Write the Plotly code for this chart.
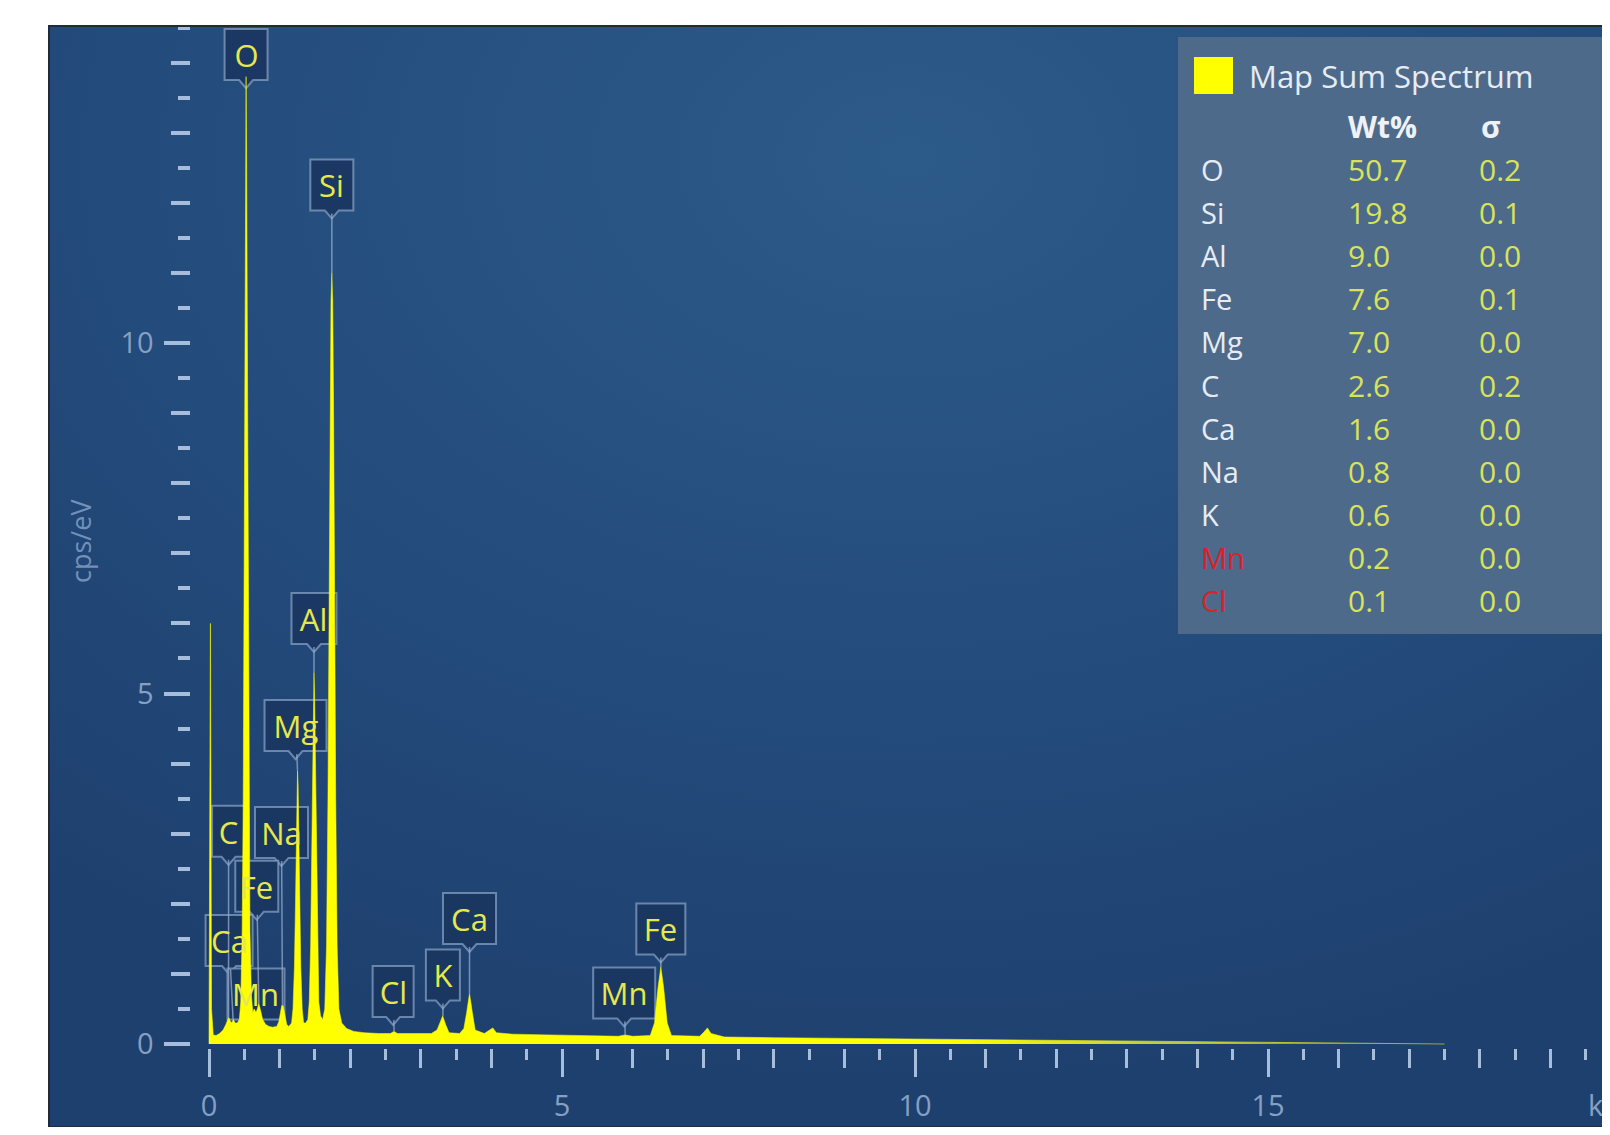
import base64
import plotly.graph_objects as go

# ---------------- data ----------------
energy_kev = [
    0.000, 0.008, 0.014, 0.020, 0.026, 0.036, 0.060, 0.100, 0.150, 0.200, 0.240,
    0.265, 0.280, 0.300, 0.320, 0.345, 0.370, 0.400, 0.430, 0.450, 0.470,
    0.485, 0.497, 0.508, 0.518, 0.525, 0.532, 0.542, 0.553, 0.565, 0.580,
    0.600, 0.620, 0.640, 0.665, 0.685, 0.705, 0.725, 0.760, 0.800, 0.850,
    0.900, 0.960, 0.990, 1.010, 1.030, 1.050, 1.070, 1.100, 1.130, 1.170,
    1.190, 1.210, 1.225, 1.240, 1.248, 1.254, 1.262, 1.270, 1.285, 1.300,
    1.320, 1.340, 1.370, 1.400, 1.420, 1.440, 1.455, 1.470, 1.480, 1.487,
    1.495, 1.505, 1.520, 1.535, 1.555, 1.580, 1.610, 1.640, 1.665, 1.685,
    1.700, 1.715, 1.728, 1.740, 1.752, 1.765, 1.780, 1.795, 1.815, 1.840,
    1.880, 1.950, 2.050, 2.200, 2.400, 2.570, 2.620, 2.670, 2.900, 3.150,
    3.230, 3.270, 3.310, 3.350, 3.400, 3.550, 3.610, 3.650, 3.690, 3.730,
    3.770, 3.900, 3.970, 4.020, 4.070, 4.300, 4.800, 5.300, 5.800, 5.895,
    6.000, 6.250, 6.310, 6.360, 6.400, 6.440, 6.490, 6.550, 6.950, 7.010,
    7.060, 7.110, 7.300, 8.000, 9.000, 10.00, 11.00, 12.00, 13.00, 14.00,
    15.00, 16.00, 17.00, 17.50,
]
cps_per_ev = [
    0.00, 4.00, 5.90, 6.00, 4.00, 0.50, 0.13, 0.12, 0.15, 0.20, 0.28,
    0.35, 0.38, 0.33, 0.30, 0.35, 0.30, 0.30, 0.35, 0.60, 1.60,
    3.50, 6.50, 10.00, 12.80, 13.80, 12.80, 10.00, 6.50, 3.50, 1.60,
    0.70, 0.45, 0.50, 0.45, 0.50, 0.58, 0.50, 0.35, 0.28, 0.25,
    0.24, 0.25, 0.32, 0.45, 0.55, 0.55, 0.42, 0.28, 0.25, 0.30,
    0.50, 1.10, 2.00, 3.20, 3.70, 3.90, 3.70, 3.20, 2.00, 1.10,
    0.50, 0.30, 0.30, 0.35, 0.60, 1.40, 2.70, 4.20, 5.00, 5.30,
    5.00, 4.20, 2.70, 1.40, 0.60, 0.40, 0.35, 0.50, 1.40, 3.50,
    6.00, 9.00, 10.60, 11.00, 10.60, 9.00, 6.00, 3.50, 1.40, 0.50,
    0.30, 0.22, 0.18, 0.16, 0.15, 0.15, 0.18, 0.15, 0.15, 0.15,
    0.20, 0.30, 0.40, 0.28, 0.16, 0.15, 0.22, 0.45, 0.72, 0.45,
    0.20, 0.15, 0.19, 0.23, 0.16, 0.14, 0.13, 0.12, 0.11, 0.13,
    0.11, 0.12, 0.30, 0.80, 1.10, 0.80, 0.30, 0.12, 0.11, 0.17,
    0.23, 0.15, 0.10, 0.09, 0.08, 0.07, 0.06, 0.05, 0.04, 0.03,
    0.02, 0.012, 0.005, 0.00,
]

# peak labels
peak_labels = ["O", "Si", "Al", "Mg", "Na", "C", "Fe", "Ca", "Mn", "Cl", "K", "Ca", "Mn", "Fe"]
peak_energy = [0.525, 1.740, 1.487, 1.254, 1.041, 0.277, 0.705, 0.341, 0.637, 2.622, 3.313, 3.690, 5.895, 6.400]
peak_height = [13.8, 11.0, 5.3, 3.9, 0.55, 0.38, 0.58, 0.35, 0.50, 0.18, 0.40, 0.72, 0.13, 1.10]

# quantification table
elements = ["O", "Si", "Al", "Fe", "Mg", "C", "Ca", "Na", "K", "Mn", "Cl"]
wt_pct = ["50.7", "19.8", "9.0", "7.6", "7.0", "2.6", "1.6", "0.8", "0.6", "0.2", "0.1"]
sigma = ["0.2", "0.1", "0.0", "0.1", "0.0", "0.2", "0.0", "0.0", "0.0", "0.0", "0.0"]
flagged = ["Mn", "Cl"]

x_tick_vals = [0, 5, 10, 15]
x_tick_text = ["0", "5", "10", "15"]
y_tick_vals = [0, 5, 10]
y_tick_text = ["0", "5", "10"]

# ---------------- layout geometry / style ----------------
# the page body has an 8px margin, so the figure is sized / offset for it
PAGE_OFF = 8
W, H = 1602, 1119
ML, MR, MT, MB = 49 - PAGE_OFF, 0, 26 - PAGE_OFF, 0
PW = W - ML - MR
PH = H - MT - MB
PLOT_BOTTOM = PAGE_OFF + H - MB


def px_x(p):
    return (p - PAGE_OFF - ML) / PW


def px_y(p):
    return (PLOT_BOTTOM - p) / PH


PX_PER_KEV = 70.6
X0_PAGE = 209.0
PX_PER_UNIT = 70.1
Y0_PAGE = 1044.0
X_RANGE = [(49 - X0_PAGE) / PX_PER_KEV, (49 + PW - X0_PAGE) / PX_PER_KEV]
Y_RANGE = [(Y0_PAGE - PLOT_BOTTOM) / PX_PER_UNIT, (Y0_PAGE - 26) / PX_PER_UNIT]

FONT = "Open Sans"
TICK_COL = "#a6bddb"
TICK_LABEL_COL = "#86a0c4"
LABEL_YELLOW = "#e6e84c"

# label box offsets (pixels from peak top to box centre) and inner box widths
label_ax = [0, 0, 0, -2, -1, 0, -2, -4, 2, -1, 0, 0, -1, 0]
label_ay = [-22, -88, -54, -45, -173, -186, -117, -79, -15, -40, -41, -75, -42, -38]
label_w = [33, 33, 35, 52, 43, 23, 33, 37, 47, 31, 24, 43, 52, 39]
label_leader = [False, True, True, True, True, True, True, True, False, True, True, True, True, True]
BOX_H = 41
BOX_PAD = 4

# background gradient as an svg image
svg = (
    "<svg xmlns='http://www.w3.org/2000/svg' width='1561' height='1102' "
    "viewBox='0 0 1561 1102' preserveAspectRatio='none'>"
    "<defs><radialGradient id='g' cx='0.55' cy='0.12' r='0.85'>"
    "<stop offset='0' stop-color='#2c5a89'/>"
    "<stop offset='0.6' stop-color='#234b7b'/>"
    "<stop offset='1' stop-color='#1e406f'/>"
    "</radialGradient></defs>"
    "<rect width='1561' height='1102' fill='url(#g)'/></svg>"
)
bg_src = "data:image/svg+xml;base64," + base64.b64encode(svg.encode()).decode()

fig = go.Figure()

fig.add_trace(go.Scatter(
    x=energy_kev, y=cps_per_ev, mode="lines",
    line=dict(color="rgba(255,255,0,0.55)", width=1),
    fill="tozeroy",
    fillgradient=dict(
        type="horizontal",
        colorscale=[[0.0, "rgb(255,255,0)"], [0.6, "rgb(255,255,0)"],
                    [0.85, "rgba(225,232,70,0.7)"], [1.0, "rgba(190,205,90,0.15)"]],
    ),
    hoverinfo="x+y", showlegend=False,
))
# carrier trace for the integer-tick overlay axes
fig.add_trace(go.Scatter(x=[None], y=[None], xaxis="x2", yaxis="y2",
                         showlegend=False, hoverinfo="skip"))

x_pos = px_y(1048)
y_pos = px_x(189.5)

common = dict(showgrid=False, zeroline=False, showline=False, ticks="outside")

fig.update_layout(
    width=W, height=H,
    margin=dict(l=ML, r=MR, t=MT, b=MB, autoexpand=False),
    paper_bgcolor="white",
    plot_bgcolor="rgba(0,0,0,0)",
    showlegend=False,
    xaxis=dict(
        range=X_RANGE, anchor="free", position=x_pos, **common,
        tickmode="array", tickvals=x_tick_vals, ticktext=x_tick_text,
        ticklen=28, tickwidth=3, tickcolor=TICK_COL,
        tickfont=dict(family=FONT, size=29, color=TICK_LABEL_COL),
        ticklabelstandoff=4,
        minor=dict(tickmode="array", tickvals=[i * 0.5 for i in range(0, 40)],
                   ticks="outside", ticklen=11, tickwidth=3, tickcolor=TICK_COL),
    ),
    xaxis2=dict(
        range=X_RANGE, anchor="free", position=x_pos, overlaying="x", **common,
        tickmode="array", tickvals=list(range(0, 20)),
        ticklen=19, tickwidth=3, tickcolor=TICK_COL, showticklabels=False,
    ),
    yaxis=dict(
        range=Y_RANGE, anchor="free", position=y_pos, **common,
        tickmode="array", tickvals=y_tick_vals, ticktext=y_tick_text,
        ticklen=26, tickwidth=4, tickcolor=TICK_COL,
        tickfont=dict(family=FONT, size=29, color=TICK_LABEL_COL),
        ticklabelstandoff=4,
        minor=dict(tickmode="array", tickvals=[i * 0.5 for i in range(0, 30)],
                   ticks="outside", ticklen=12, tickwidth=4, tickcolor=TICK_COL),
    ),
    yaxis2=dict(
        range=Y_RANGE, anchor="free", position=y_pos, overlaying="y", **common,
        tickmode="array", tickvals=list(range(0, 15)),
        ticklen=19, tickwidth=4, tickcolor=TICK_COL, showticklabels=False,
    ),
    images=[dict(source=bg_src, xref="paper", yref="paper", x=0, y=1,
                 sizex=1, sizey=1, xanchor="left", yanchor="top",
                 sizing="stretch", layer="below")],
)

shapes = [
    # legend panel
    dict(type="rect", xref="paper", yref="paper", x0=px_x(1178), x1=1.02,
         y0=px_y(634), y1=px_y(37), fillcolor="#4e6a8b", line=dict(width=0),
         layer="below"),
    # legend swatch
    dict(type="rect", xref="paper", yref="paper", x0=px_x(1194), x1=px_x(1233),
         y0=px_y(94), y1=px_y(57), fillcolor="#ffff00", line=dict(width=0)),
    # frame
    dict(type="rect", xref="paper", yref="paper", x0=0, x1=1.02, y0=0, y1=1,
         line=dict(color="#222a36", width=2), fillcolor="rgba(0,0,0,0)"),
]

# peak label boxes (speech-bubble shape, drawn beneath the spectrum)
for e, h, ax, ay, bw in zip(peak_energy, peak_height, label_ax, label_ay, label_w):
    half_w = bw / 2 + BOX_PAD + 1
    half_h = BOX_H / 2 + BOX_PAD + 1
    cx, cy = ax, -ay
    left, right = cx - half_w, cx + half_w
    top, bot = cy + half_h, cy - half_h
    path = (f"M{left},{top} L{right},{top} L{right},{bot} L{cx + 7},{bot} "
            f"L{cx},{bot - 8} L{cx - 7},{bot} L{left},{bot} Z")
    shapes.append(dict(
        type="path", path=path,
        xref="x", xsizemode="pixel", xanchor=e,
        yref="y", ysizemode="pixel", yanchor=h,
        fillcolor="rgba(26,55,98,0.96)",
        line=dict(color="rgba(140,165,200,0.7)", width=2),
        layer="below",
    ))
fig.update_layout(shapes=shapes)

ann = []
for lbl, e, h, ax, ay, bw, lead in zip(peak_labels, peak_energy, peak_height,
                                       label_ax, label_ay, label_w, label_leader):
    ann.append(dict(
        x=e, y=h, xref="x", yref="y", text=lbl, showarrow=True,
        arrowhead=0, arrowwidth=1.5,
        arrowcolor="rgba(150,172,205,0.75)" if lead else "rgba(0,0,0,0)",
        ax=ax, ay=ay, standoff=0, width=bw, height=BOX_H,
        font=dict(family=FONT, size=31, color=LABEL_YELLOW),
        bgcolor="rgba(0,0,0,0)", borderwidth=0, borderpad=BOX_PAD + 4,
    ))


def txt(x, y, text, size, color, xanchor="left", **kw):
    return dict(x=x, y=y, xref="paper", yref="paper", text=text,
                xanchor=xanchor, yanchor="middle", showarrow=False,
                font=dict(family=FONT, size=size, color=color), **kw)


# axis title and unit
ann.append(txt(px_x(80), px_y(541), "cps/eV", 27, "#7391b8",
               xanchor="center", textangle=-90))
ann.append(dict(x=19.5, y=px_y(1104), xref="x", yref="paper", text="keV",
                xanchor="left", yanchor="middle", showarrow=False,
                font=dict(family=FONT, size=29, color=TICK_LABEL_COL)))

# legend text
ann.append(txt(px_x(1247), px_y(76), "Map Sum Spectrum", 31, "#e6ecf3"))
ann.append(txt(px_x(1346), px_y(126), "<b>Wt%</b>", 30, "#eef2f7"))
ann.append(txt(px_x(1479), px_y(126), "<b>σ</b>", 30, "#eef2f7"))
for i, (el, wt, sg) in enumerate(zip(elements, wt_pct, sigma)):
    yy = px_y(169.5 + i * 43.1)
    col = "#d8232d" if el in flagged else "#e6ecf3"
    ann.append(txt(px_x(1199), yy, el, 29, col))
    ann.append(txt(px_x(1346), yy, wt, 30, "#d9e35a"))
    ann.append(txt(px_x(1477), yy, sg, 30, "#d9e35a"))

fig.update_layout(annotations=ann)

fig.write_html("out.html")
